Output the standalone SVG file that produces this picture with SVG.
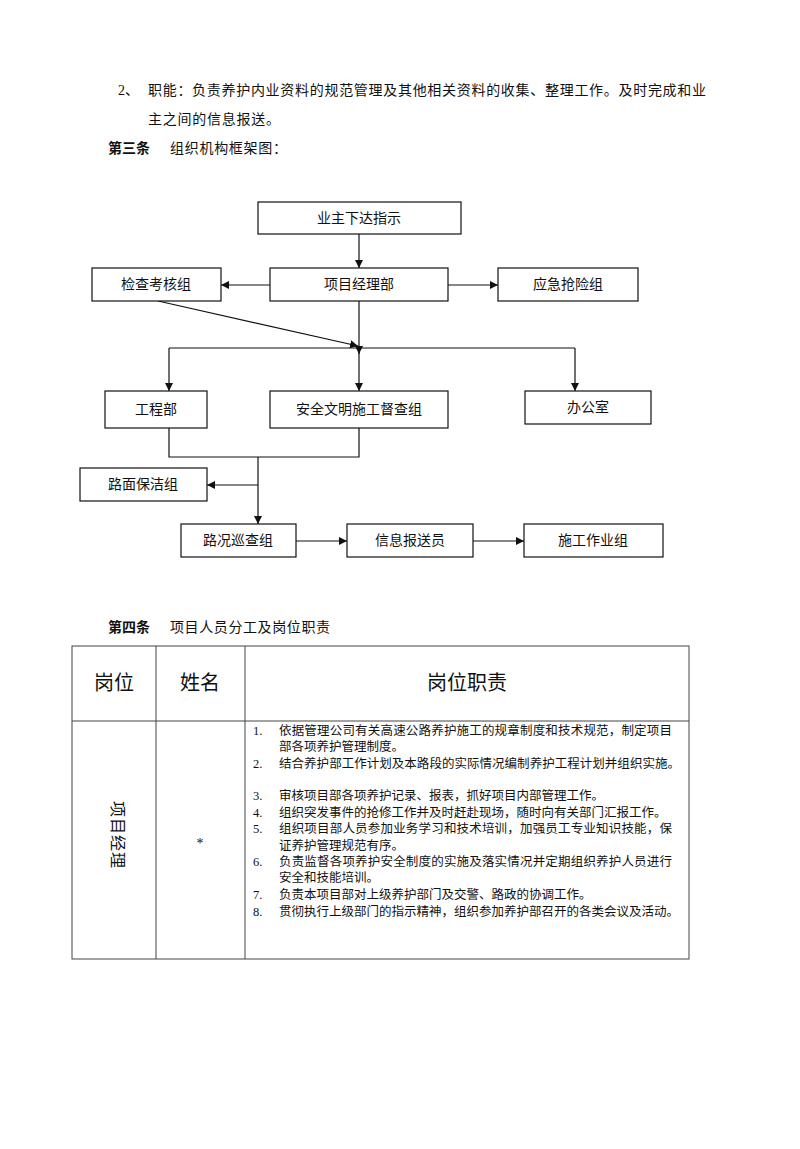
<svg xmlns="http://www.w3.org/2000/svg" width="800" height="1149" viewBox="0 0 800 1149">
<style>
text{font-family:"Liberation Serif","Noto Sans CJK SC",serif;fill:#111}
.p{font-size:14px}
.b{font-weight:bold}
.n rect{fill:#fff;stroke:#111;stroke-width:1.2}
.n text{font-size:14px;text-anchor:middle}
.c line,.c polyline{stroke:#111;stroke-width:1.2;fill:none}
.arr{marker-end:url(#ah)}
.t line,.t rect{stroke:#444;stroke-width:1;fill:none}
.h{font-size:20px;text-anchor:middle}
.l{font-size:12.5px}
</style>
<defs>
<marker id="ah" viewBox="0 0 10 10" refX="10" refY="5" markerWidth="8" markerHeight="8" markerUnits="userSpaceOnUse" orient="auto">
<path d="M0,0 L10,5 L0,10 z" fill="#111"/>
</marker>
</defs>
<rect width="800" height="1149" fill="#fff"/>

<text class="p" x="118" y="95">2、</text>
<text class="p" x="148" y="95" textLength="558" lengthAdjust="spacing">职能：负责养护内业资料的规范管理及其他相关资料的收集、整理工作。及时完成和业</text>
<text class="p" x="148" y="124" textLength="132" lengthAdjust="spacing">主之间的信息报送。</text>
<text class="p b" x="108" y="153">第三条</text>
<text class="p" x="170" y="153" textLength="117" lengthAdjust="spacing">组织机构框架图：</text>

<g class="c">
<line class="arr" x1="359" y1="234" x2="359" y2="268"/>
<line class="arr" x1="270" y1="285" x2="221" y2="285"/>
<line class="arr" x1="448" y1="285" x2="498" y2="285"/>
<line class="arr" x1="359" y1="301" x2="359" y2="354"/>
<line class="arr" x1="158" y1="301" x2="358" y2="346"/>
<line x1="169" y1="348" x2="575" y2="348"/>
<line class="arr" x1="169" y1="348" x2="169" y2="391"/>
<line class="arr" x1="359" y1="348" x2="359" y2="391"/>
<line class="arr" x1="575" y1="348" x2="575" y2="391"/>
<polyline points="169,428 169,457 359,457 359,428"/>
<line class="arr" x1="258" y1="457" x2="258" y2="524"/>
<line class="arr" x1="258" y1="485" x2="207" y2="485"/>
<line class="arr" x1="296" y1="541" x2="347" y2="541"/>
<line class="arr" x1="473" y1="541" x2="524" y2="541"/>
</g>

<g class="n" id="n-yezhu"><rect x="258" y="202" width="203" height="32"/><text x="359" y="223">业主下达指示</text></g>
<g class="n" id="n-jiancha"><rect x="92" y="268" width="129" height="33"/><text x="156" y="289">检查考核组</text></g>
<g class="n" id="n-xiangmu"><rect x="270" y="268" width="178" height="33"/><text x="359" y="289">项目经理部</text></g>
<g class="n" id="n-yingji"><rect x="498" y="268" width="140" height="33"/><text x="568" y="289">应急抢险组</text></g>
<g class="n" id="n-gongcheng"><rect x="105" y="391" width="102" height="37"/><text x="156" y="414">工程部</text></g>
<g class="n" id="n-anquan"><rect x="270" y="391" width="178" height="37"/><text x="359" y="414">安全文明施工督查组</text></g>
<g class="n" id="n-bangong"><rect x="525" y="391" width="126" height="33"/><text x="588" y="412">办公室</text></g>
<g class="n" id="n-lumian"><rect x="80" y="468" width="127" height="33"/><text x="143" y="489">路面保洁组</text></g>
<g class="n" id="n-lukuang"><rect x="181" y="524" width="115" height="33"/><text x="238" y="545">路况巡查组</text></g>
<g class="n" id="n-xinxi"><rect x="347" y="524" width="126" height="33"/><text x="410" y="545">信息报送员</text></g>
<g class="n" id="n-shigong"><rect x="524" y="524" width="139" height="33"/><text x="593" y="545">施工作业组</text></g>

<text class="p b" x="108" y="632">第四条</text>
<text class="p" x="170" y="632" textLength="160" lengthAdjust="spacing">项目人员分工及岗位职责</text>

<g class="t">
<rect x="72" y="646" width="617" height="313"/>
<line x1="72" y1="721" x2="689" y2="721"/>
<line x1="156" y1="646" x2="156" y2="959"/>
<line x1="245" y1="646" x2="245" y2="959"/>
</g>
<text class="h" x="114" y="690">岗位</text>
<text class="h" x="200" y="690">姓名</text>
<text class="h" x="467" y="690">岗位职责</text>

<text x="106" y="841" font-size="16" transform="rotate(90 112 841)" text-anchor="middle" letter-spacing="1">项目经理</text>
<text x="200" y="848" font-size="14" text-anchor="middle">*</text>

<g class="l">
<text x="253" y="735">1.</text><text x="279" y="735" textLength="393" lengthAdjust="spacing">依据管理公司有关高速公路养护施工的规章制度和技术规范，制定项目</text>
<text x="279" y="751">部各项养护管理制度。</text>
<text x="253" y="768">2.</text><text x="279" y="768" textLength="401" lengthAdjust="spacing">结合养护部工作计划及本路段的实际情况编制养护工程计划并组织实施。</text>
<text x="253" y="800">3.</text><text x="279" y="800">审核项目部各项养护记录、报表，抓好项目内部管理工作。</text>
<text x="253" y="817">4.</text><text x="279" y="817">组织突发事件的抢修工作并及时赶赴现场，随时向有关部门汇报工作。</text>
<text x="253" y="833">5.</text><text x="279" y="833" textLength="393" lengthAdjust="spacing">组织项目部人员参加业务学习和技术培训，加强员工专业知识技能，保</text>
<text x="279" y="850">证养护管理规范有序。</text>
<text x="253" y="866">6.</text><text x="279" y="866" textLength="393" lengthAdjust="spacing">负责监督各项养护安全制度的实施及落实情况并定期组织养护人员进行</text>
<text x="279" y="882">安全和技能培训。</text>
<text x="253" y="899">7.</text><text x="279" y="899">负责本项目部对上级养护部门及交警、路政的协调工作。</text>
<text x="253" y="916">8.</text><text x="279" y="916">贯彻执行上级部门的指示精神，组织参加养护部召开的各类会议及活动。</text>
</g>
</svg>
